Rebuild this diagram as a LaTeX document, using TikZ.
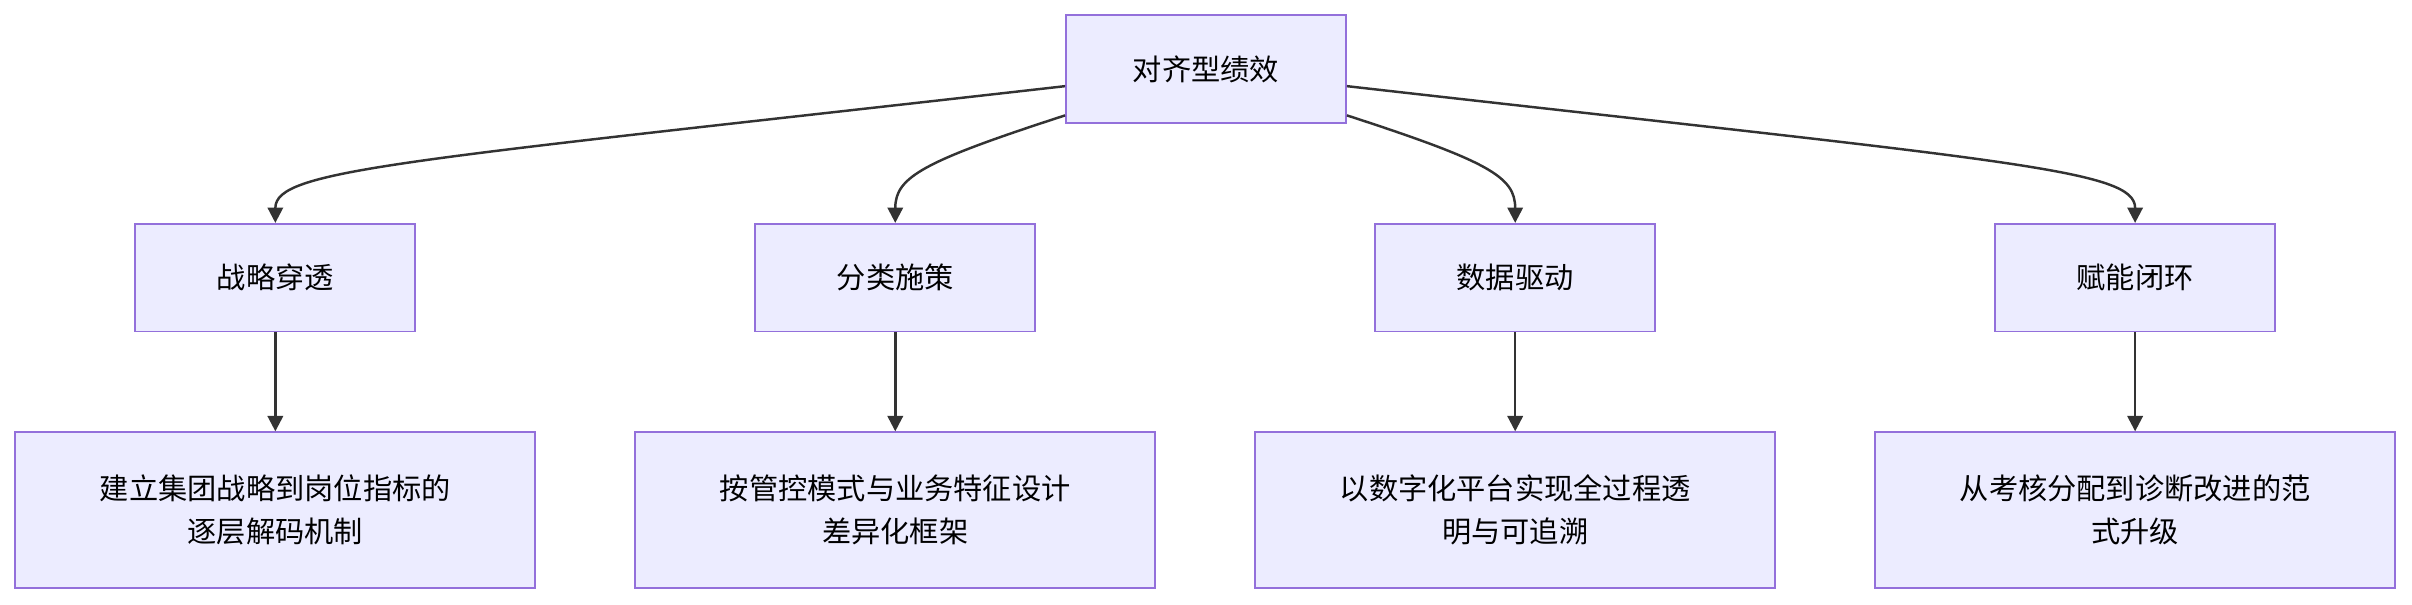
\documentclass[tikz,border=0pt]{standalone}
\usepackage{fontspec}
\setmainfont{Noto Sans CJK SC}
\usetikzlibrary{arrows.meta}
\definecolor{nfill}{HTML}{ECECFF}
\definecolor{nstroke}{HTML}{9370DB}
\definecolor{edge}{HTML}{333333}
\begin{document}
\begin{tikzpicture}[x=0.5pt,y=-0.5pt,
  box/.style={draw=nstroke,fill=nfill,line width=0.6pt,font=\fontsize{9.5}{14}\selectfont,align=center,text=black,inner sep=0pt},
  l1/.style={box,minimum width=91pt,minimum height=35pt},
  l3/.style={box,minimum width=169pt,minimum height=50.5pt},
  arr/.style={draw=edge,line width=0.8pt,-{Triangle[length=5pt,width=5pt]}}]
\useasboundingbox (0,0) rectangle (1568,393);
\node[l1] (top) at (784,45) {对齐型绩效};
\node[l1] (a) at (179,180.5) {战略穿透};
\node[l1] (b) at (582,180.5) {分类施策};
\node[l1] (c) at (985,180.5) {数据驱动};
\node[l1] (d) at (1388,180.5) {赋能闭环};
\node[l3] (a2) at (179,331.5) {建立集团战略到岗位指标的\\逐层解码机制};
\node[l3] (b2) at (582,331.5) {按管控模式与业务特征设计\\差异化框架};
\node[l3] (c2) at (985,331.5) {以数字化平台实现全过程透\\明与可追溯};
\node[l3] (d2) at (1388,331.5) {从考核分配到诊断改进的范\\式升级};
\draw[arr] ([yshift=-5.5pt]top.west) .. controls (260,105) and (179,110) .. (a.north);
\draw[arr] ([yshift=-15pt]top.west) .. controls (600,105) and (582,115) .. (b.north);
\draw[arr] ([yshift=-15pt]top.east) .. controls (968,105) and (985,115) .. (c.north);
\draw[arr] ([yshift=-5.5pt]top.east) .. controls (1308,105) and (1388,110) .. (d.north);
\draw[arr] (a) -- (a2);
\draw[arr] (b) -- (b2);
\draw[arr] (c) -- (c2);
\draw[arr] (d) -- (d2);
\end{tikzpicture}
\end{document}
